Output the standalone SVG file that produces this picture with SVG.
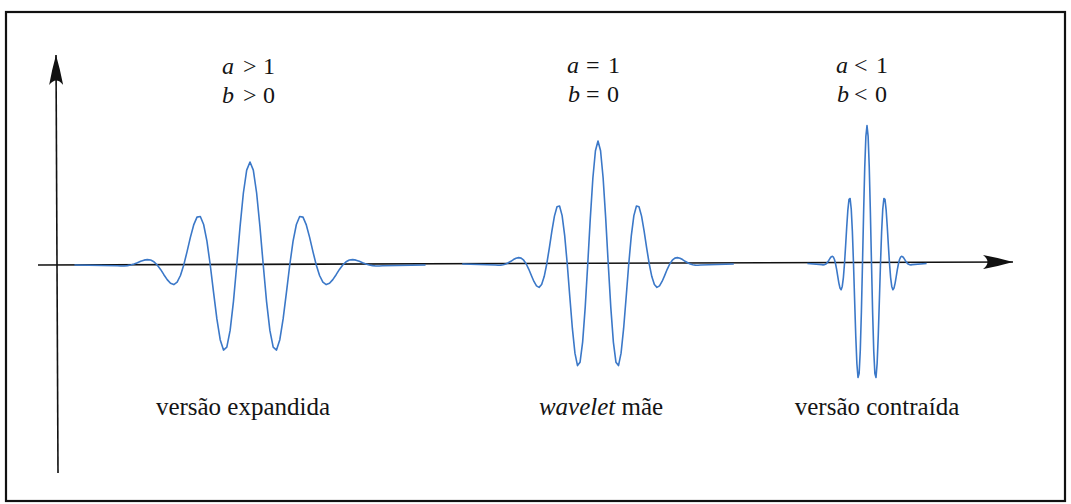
<svg xmlns="http://www.w3.org/2000/svg" xmlns:xlink="http://www.w3.org/1999/xlink" width="1071" height="504" viewBox="0 0 1071 504">
<style>
.lbl{font-family:'Liberation Serif','DejaVu Serif',serif;font-size:24px;fill:#141414}
.cap{font-family:'Liberation Serif','DejaVu Serif',serif;font-size:25px;fill:#141414;text-anchor:middle}
.it{font-style:italic}
.wave{fill:none;stroke:#3b78c8;stroke-width:1.6;stroke-linejoin:round;vector-effect:non-scaling-stroke}
.axis{fill:none;stroke:#111;stroke-width:1.6}
</style>
<defs>
<marker id="arr" viewBox="0 0 30 14" markerUnits="userSpaceOnUse" markerWidth="30" markerHeight="14" refX="30" refY="7" orient="auto">
<path d="M30,7 Q16,3 0,0 Q9,7 0,14 Q16,11 30,7 Z" fill="#111"/>
</marker>
<path id="wv" class="wave" d="M-53,0 L-40,-8 -39,-10 -38,-9 -37,-6 -36,0 -35,10 -34,22 -33,36 -32,47 -31,52 -30,48 -29,31 -28,0 -27,-43 -26,-94 -25,-142 -24,-178 -23,-190 -22,-166 -21,-102 -20,0 -19,130 -18,268 -17,389 -16,465 -15,471 -14,393 -13,231 -12,0 -11,-266 -10,-524 -9,-725 -8,-826 -7,-798 -6,-635 -5,-355 -4,0 -3,373 -2,699 -1,921 0,1000 1,921 2,699 3,373 4,0 5,-355 6,-635 7,-798 8,-826 9,-725 10,-524 11,-266 12,0 13,231 14,393 15,471 16,465 17,389 18,268 19,130 20,0 21,-102 22,-166 23,-190 24,-178 25,-142 26,-94 27,-43 28,0 29,31 30,48 31,52 32,47 33,36 34,22 35,10 36,0 37,-6 38,-9 39,-10 40,-8 53,0"/>
</defs>
<rect x="0" y="0" width="1071" height="504" fill="#fff"/>
<rect id="frame" x="6" y="12" width="1059" height="489" fill="none" stroke="#111" stroke-width="2.2"/>
<g id="connectors">
<line class="axis" x1="38" y1="265" x2="1013" y2="262" marker-end="url(#arr)"/>
<line class="axis" x1="58" y1="473" x2="56" y2="55" stroke-width="2" marker-end="url(#arr)"/>
</g>
<g id="expanded">
<use xlink:href="#wv" href="#wv" transform="translate(250,265) scale(3.3125,-0.103)"/>
<text class="lbl" y="74"><tspan class="it" x="222">a</tspan><tspan x="243">&gt;</tspan><tspan x="263">1</tspan></text>
<text class="lbl" y="103"><tspan class="it" x="222">b</tspan><tspan x="243">&gt;</tspan><tspan x="263">0</tspan></text>
<text class="cap" x="243" y="415">versão expandida</text>
</g>
<g id="mother">
<use xlink:href="#wv" href="#wv" transform="translate(598,264) scale(2.5625,-0.123)"/>
<text class="lbl" y="73"><tspan class="it" x="567">a</tspan><tspan x="586">=</tspan><tspan x="608">1</tspan></text>
<text class="lbl" y="102"><tspan class="it" x="568">b</tspan><tspan x="586">=</tspan><tspan x="607">0</tspan></text>
<text class="cap" x="601" y="415"><tspan class="it">wavelet</tspan> mãe</text>
</g>
<g id="contracted">
<use xlink:href="#wv" href="#wv" transform="translate(867,263.5) scale(1.125,-0.138)"/>
<text class="lbl" y="73"><tspan class="it" x="836">a</tspan><tspan x="854">&lt;</tspan><tspan x="876">1</tspan></text>
<text class="lbl" y="102"><tspan class="it" x="837">b</tspan><tspan x="854">&lt;</tspan><tspan x="875">0</tspan></text>
<text class="cap" x="877" y="415">versão contraída</text>
</g>
</svg>
